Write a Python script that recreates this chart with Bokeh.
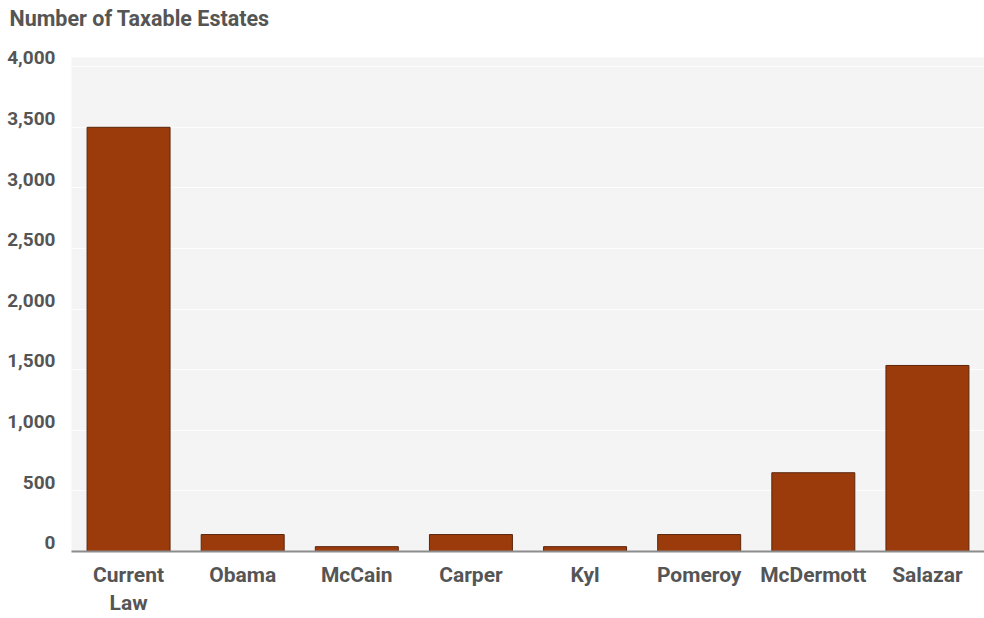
from bokeh.plotting import figure
from bokeh.models import (ColumnDataSource, FactorRange, Range1d, LinearAxis,
                          SingleIntervalTicker, NumeralTickFormatter, Title)
from bokeh.embed import file_html
from bokeh.resources import INLINE

# ---- data ----
categories = ["Current\nLaw", "Obama", "McCain", "Carper", "Kyl",
              "Pomeroy", "McDermott", "Salazar"]
estates = [3500, 140, 40, 140, 40, 140, 650, 1535]
title_text = "Number of Taxable Estates"

FONT = "Roboto"
TXT = "#555555"

src = ColumnDataSource(dict(cat=categories, val=estates))

y_end = 4076
label_shift = 72

p = figure(width=984, height=618, output_backend="svg", toolbar_location=None,
           x_range=FactorRange(*categories, range_padding=0),
           y_range=Range1d(0, y_end),
           min_border_left=71, min_border_right=0, min_border_top=55,
           min_border_bottom=67, background_fill_color="#f4f4f4",
           border_fill_color="#ffffff", outline_line_color=None)

p.vbar(x="cat", top="val", source=src, width=0.727,
       fill_color="#9b3b0c", line_color="#5a260c", line_width=1)

# main title (outer panel)
p.title.text = title_text
p.title.text_font = FONT
p.title.text_font_style = "bold"
p.title.text_font_size = "21.5px"
p.title.text_color = TXT
p.title.align = "left"
p.title.vertical_align = "top"
p.title.offset = -62
p.title.standoff = 10
# blank spacer panel between the title and the plot area
p.add_layout(Title(text=" ", text_font_size="16px", standoff=1), "above")

# main y axis hidden (drives the grid)
p.yaxis.ticker = SingleIntervalTicker(interval=500)
p.yaxis.visible = False
p.ygrid.grid_line_color = "#ffffff"
p.ygrid.grid_line_alpha = 0.8
p.ygrid.grid_line_width = 1
p.xgrid.grid_line_color = None

# label axis, shifted slightly upward like the reference
p.extra_y_ranges = {"lab": Range1d(-label_shift, y_end - label_shift)}
lab_axis = LinearAxis(y_range_name="lab", ticker=SingleIntervalTicker(interval=500),
                      formatter=NumeralTickFormatter(format="0,0"))
lab_axis.axis_line_color = None
lab_axis.major_tick_line_color = None
lab_axis.minor_tick_line_color = None
lab_axis.major_label_standoff = 10
lab_axis.major_label_text_font = FONT
lab_axis.major_label_text_font_style = "bold"
lab_axis.major_label_text_font_size = "19px"
lab_axis.major_label_text_color = TXT
p.add_layout(lab_axis, "left")

# x axis
xa = p.xaxis[0]
xa.axis_line_color = "#8c8c8c"
xa.axis_line_width = 2
xa.major_tick_line_color = None
xa.minor_tick_line_color = None
xa.major_label_standoff = 5
xa.major_label_text_font = FONT
xa.major_label_text_font_style = "bold"
xa.major_label_text_font_size = "21px"
xa.major_label_text_color = TXT
xa.major_label_text_line_height = 1.2

open("out.html", "w").write(file_html(p, INLINE))
